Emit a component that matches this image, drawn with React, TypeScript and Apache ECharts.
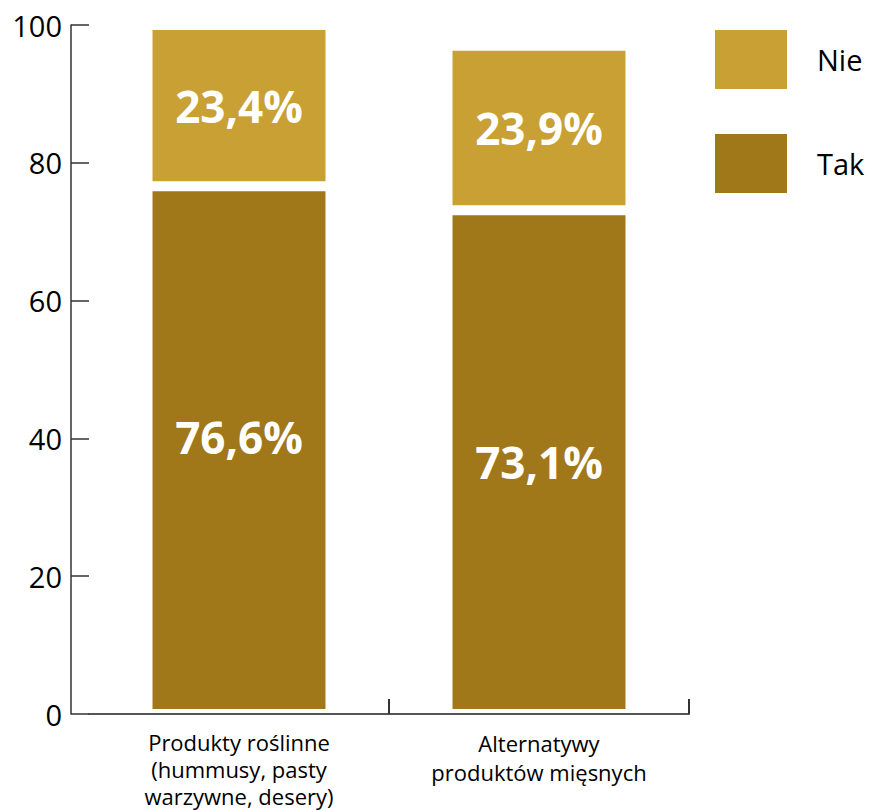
import React, { useEffect, useRef } from "react";
import * as echarts from "echarts";

const categories = [
  "Produkty roślinne\n(hummusy, pasty\nwarzywne, desery)",
  "Alternatywy\nproduktów mięsnych",
];
const takValues = [76.6, 73.1];
const nieValues = [23.4, 23.9];
const yTicks = { min: 0, max: 100, interval: 20 };

const TAK_COLOR = "#A07819";
const NIE_COLOR = "#C8A033";
const FONT = "'Open Sans', sans-serif";

const fmt = (v: number) => v.toFixed(1).replace(".", ",") + "%";

export default function App() {
  const ref = useRef<HTMLDivElement>(null);

  useEffect(() => {
    if (!ref.current) return;
    const chart = echarts.init(ref.current, undefined, { renderer: "svg" });

    const barLabel = {
      show: true,
      position: "inside" as const,
      color: "#ffffff",
      fontFamily: FONT,
      fontWeight: "bold" as const,
      fontSize: 44,
      formatter: (p: any) => fmt(p.value),
    };

    // two-line labels get a little more leading than the three-line one
    const categoryData = categories.map((c) =>
      c.split("\n").length < 3 ? { value: c, textStyle: { lineHeight: 29 } } : c
    );

    chart.setOption({
      animation: false,
      backgroundColor: "#ffffff",
      grid: {
        left: 89,
        right: 180,
        top: 25,
        bottom: 97,
        containLabel: false,
        outerBoundsMode: "none",
      },
      legend: {
        orient: "vertical",
        left: 715,
        top: 30,
        padding: 0,
        itemWidth: 72,
        itemHeight: 59,
        itemGap: 45,
        icon: "rect",
        data: ["Nie", "Tak"],
        itemStyle: { borderWidth: 0 },
        textStyle: {
          color: "#000",
          fontFamily: FONT,
          fontSize: 29,
          padding: [0, 0, 0, 25],
        },
      },
      xAxis: [
        {
          type: "category",
          data: categoryData,
          position: "bottom",
          axisLine: { show: true, onZero: false, lineStyle: { color: "#555", width: 2 } },
          axisTick: { show: false },
          axisLabel: {
            interval: 0,
            margin: 14,
            color: "#000",
            fontFamily: FONT,
            fontSize: 22,
            lineHeight: 27,
            align: "center",
          },
          z: 10,
        },
        {
          type: "value",
          min: 0,
          max: 2,
          interval: 1,
          position: "bottom",
          axisLine: { show: false, onZero: false },
          axisLabel: { show: false },
          splitLine: { show: false },
          axisTick: {
            show: true,
            inside: true,
            length: 15,
            customValues: [1, 2],
            lineStyle: { color: "#333", width: 2 },
          },
          z: 10,
        },
      ],
      yAxis: {
        type: "value",
        min: yTicks.min,
        max: yTicks.max,
        interval: yTicks.interval,
        offset: 18,
        axisLine: { show: true, onZero: false, lineStyle: { color: "#333", width: 1.5 } },
        axisTick: {
          show: true,
          inside: true,
          length: 18,
          lineStyle: { color: "#333", width: 1.5 },
        },
        splitLine: { show: false },
        axisLabel: {
          margin: 9,
          color: "#000",
          fontFamily: FONT,
          fontSize: 29,
        },
        z: 10,
      },
      series: [
        {
          name: "Tak",
          type: "bar",
          stack: "total",
          barWidth: 183,
          data: takValues.map((v, i) =>
            i === 0 ? { value: v, label: { offset: [0, -13] } } : v
          ),
          itemStyle: { color: TAK_COLOR, borderColor: "#ffffff", borderWidth: 5 },
          label: barLabel,
        },
        {
          name: "Nie",
          type: "bar",
          stack: "total",
          barWidth: 183,
          data: nieValues,
          itemStyle: { color: NIE_COLOR, borderColor: "#ffffff", borderWidth: 5 },
          label: barLabel,
        },
      ],
    });

    return () => chart.dispose();
  }, []);

  return (
    <div
      ref={ref}
      style={{ position: "absolute", left: 0, top: 0, width: 869, height: 811 }}
    />
  );
}
